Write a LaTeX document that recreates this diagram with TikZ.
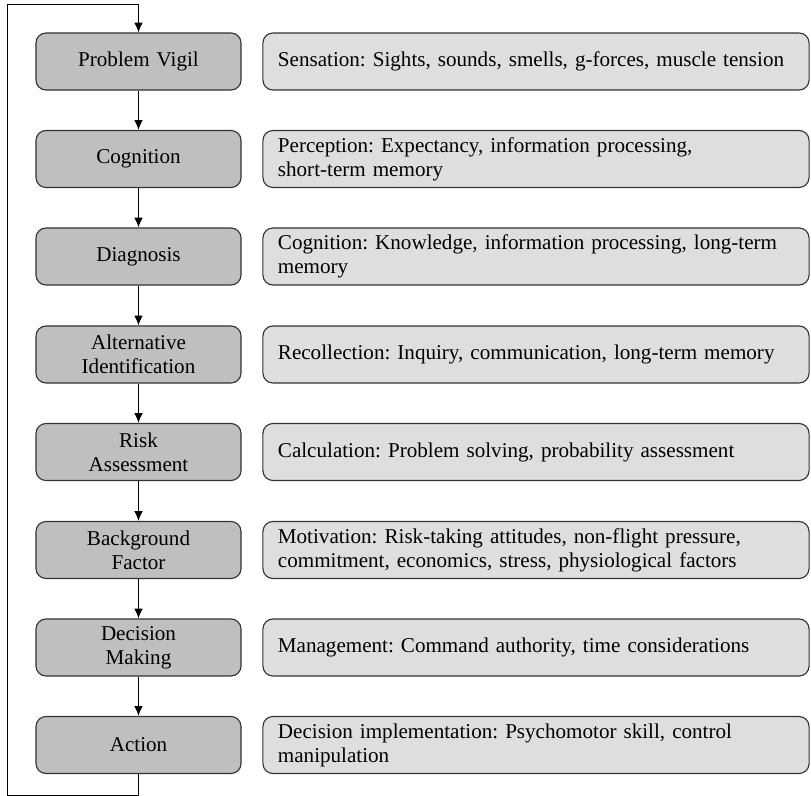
\documentclass[tikz,border=0pt]{standalone}
\usepackage{fontspec}
\setmainfont{Liberation Serif}
\usetikzlibrary{arrows.meta}

\begin{document}
\frenchspacing
\begin{tikzpicture}[x=0.025cm, y=-0.025cm,
  font=\fontsize{15}{17}\selectfont,
  stage/.style = {draw = black!80, fill = black!25, rounded corners = 0.25cm, line width = 0.8pt,
    minimum width = 5.125cm, minimum height = 1.425cm, text width = 4.6cm, align = center, inner sep = 0pt},
  detail/.style = {draw = black!80, fill = black!13, rounded corners = 0.25cm, line width = 0.8pt,
    minimum width = 13.65cm, minimum height = 1.425cm, text width = 12.9cm, align = left, inner xsep = 0.375cm, inner ysep = 0pt},
  flow/.style = {line width = 0.7pt, -{Latex[length=7pt, width=6pt]}}]
\useasboundingbox (0,0) rectangle (811,796);
% stages on the left
\node[stage] (vigil) at (138.5,61.5) {Problem Vigil};
\node[stage] (cogn) at (138.5,159) {Cognition};
\node[stage] (diag) at (138.5,256.5) {Diagnosis};
\node[stage] (alter) at (138.5,354.5) {Alternative\\Identification};
\node[stage] (risk) at (138.5,452) {Risk\\Assessment};
\node[stage] (backg) at (138.5,550) {Background\\Factor};
\node[stage] (decis) at (138.5,647.5) {Decision\\Making};
\node[stage] (action) at (138.5,745) {Action};
% descriptions on the right
\node[detail] (sens) at (536,61.5) {Sensation: Sights, sounds, smells, g-forces, muscle tension};
\node[detail] (perc) at (536,159) {Perception: Expectancy, information processing,\\short-term memory};
\node[detail] (know) at (536,256.5) {Cognition: Knowledge, information processing, long-term\\memory};
\node[detail] (recol) at (536,354.5) {Recollection: Inquiry, communication, long-term memory};
\node[detail] (calc) at (536,452) {Calculation: Problem solving, probability assessment};
\node[detail] (motiv) at (536,550) {Motivation: Risk-taking attitudes, non-flight pressure,\\commitment, economics, stress, physiological factors};
\node[detail] (manag) at (536,647.5) {Management: Command authority, time considerations};
\node[detail] (impl) at (536,745) {Decision implementation: Psychomotor skill, control\\manipulation};
% arrows between stages
\draw[flow] (vigil) -- (cogn);
\draw[flow] (cogn) -- (diag);
\draw[flow] (diag) -- (alter);
\draw[flow] (alter) -- (risk);
\draw[flow] (risk) -- (backg);
\draw[flow] (backg) -- (decis);
\draw[flow] (decis) -- (action);
% feedback loop
\coordinate (loopbl) at (7,795);
\coordinate (looptl) at (7,4);
\draw[flow] (action.south) -- (action.south |- loopbl) -- (loopbl) -- (looptl) -- (looptl -| vigil.north) -- (vigil.north);
\end{tikzpicture}
\end{document}
